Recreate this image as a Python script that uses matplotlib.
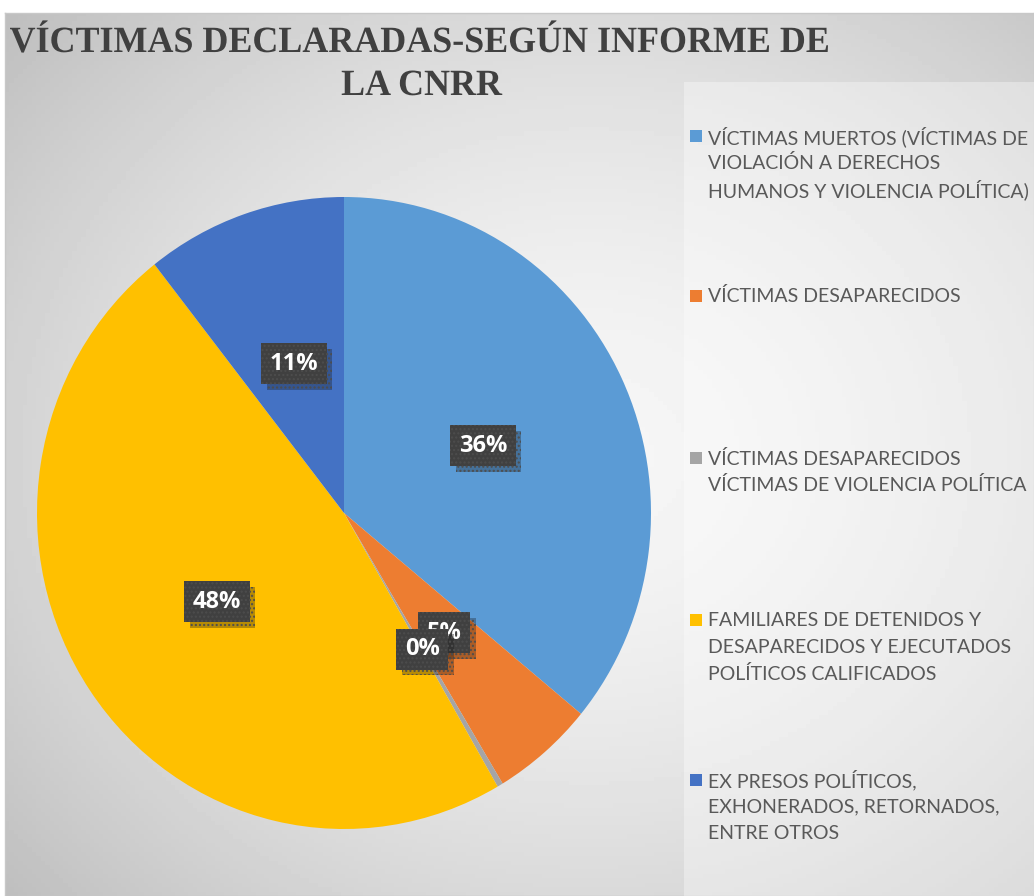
import numpy as np
import matplotlib
matplotlib.use("Agg")
import matplotlib.pyplot as plt
import matplotlib.patheffects as pe
from matplotlib.patches import Rectangle, PathPatch
from matplotlib.textpath import TextPath
from matplotlib.font_manager import FontProperties
from matplotlib.transforms import Affine2D

# data
categories = [
    "VÍCTIMAS MUERTOS (VÍCTIMAS DE\nVIOLACIÓN A DERECHOS\nHUMANOS Y VIOLENCIA POLÍTICA)",
    "VÍCTIMAS DESAPARECIDOS",
    "VÍCTIMAS DESAPARECIDOS\nVÍCTIMAS DE VIOLENCIA POLÍTICA",
    "FAMILIARES DE DETENIDOS Y\nDESAPARECIDOS Y EJECUTADOS\nPOLÍTICOS CALIFICADOS",
    "EX PRESOS POLÍTICOS,\nEXHONERADOS, RETORNADOS,\nENTRE OTROS",
]
shares = [36.0, 5.4, 0.3, 47.8, 10.6]
pct_labels = ["36%", "5%", "0%", "48%", "11%"]
colors = ["#5B9BD5", "#ED7D31", "#A5A5A5", "#FFC000", "#4472C4"]
title_lines = ["VÍCTIMAS DECLARADAS-SEGÚN INFORME DE", "LA CNRR"]

W, H = 1034, 896
fig = plt.figure(figsize=(W / 100, H / 100), dpi=100)
fig.patch.set_facecolor("white")
px = Affine2D().scale(1 / W, 1 / H) + fig.transFigure  # pixel coords, y up

# chart area background with soft radial gradient
bg = fig.add_axes([5 / W, 0, 1 - 5 / W, (H - 13) / H])
yy, xx = np.mgrid[0:200, 0:230]
r = np.hypot((xx - 130) / 230, (yy - 100) / 200)
shade = 0.965 - 0.22 * (r / r.max()) ** 1.6
bg.imshow(shade, cmap="gray", vmin=0, vmax=1, aspect="auto", extent=(0, 1, 0, 1))
bg.set_xticks([])
bg.set_yticks([])
for s in bg.spines.values():
    s.set_color("#c8c8c8")
    s.set_linewidth(1.0)

# lighter legend panel
lg = fig.add_axes([684 / W, 0, 1 - 684 / W, (H - 82) / H])
lg.patch.set_facecolor("white")
lg.patch.set_alpha(0.35)
lg.set_xticks([])
lg.set_yticks([])
for s in lg.spines.values():
    s.set_visible(False)

# pie
cx_px, cy_px, rx, ry = 344, 513, 307, 316
ax = fig.add_axes([(cx_px - rx) / W, (H - cy_px - ry) / H, 2 * rx / W, 2 * ry / H])
wedges, texts = ax.pie(
    shares, colors=colors, startangle=90, counterclock=False,
    labels=pct_labels, labeldistance=0.5,
    wedgeprops=dict(linewidth=0),
)
ax.set_aspect("auto")
ax.set_xlim(-1, 1)
ax.set_ylim(-1, 1)
ax.axis("off")

for t in texts:
    t.set_ha("center")
    t.set_va("center")
    t.set_color("white")
    t.set_fontsize(17)
    t.set_fontweight("bold")
    t.set_fontfamily("Open Sans")
    t.set_bbox(dict(boxstyle="square,pad=0.36", facecolor="#404040",
                    edgecolor="#4d4d4d", linewidth=0, hatch="...."))
    t.get_bbox_patch().set_path_effects(
        [pe.SimplePatchShadow(offset=(4, -4), alpha=0.3), pe.Normal()])
texts[1].set_zorder(3)
texts[2].set_zorder(4)

# title: bold serif, squeezed horizontally like the original condensed face
tprop = FontProperties(family="Liberation Serif", weight="bold")
tsize = 37
tp1 = TextPath((0, 0), title_lines[0], size=tsize, prop=tprop)
sx = 818 / tp1.get_extents().width
for line, cx, base in [(title_lines[0], 419, H - 52), (title_lines[1], 422, H - 95)]:
    tp = TextPath((0, 0), line, size=tsize, prop=tprop)
    bb = tp.get_extents()
    tr = Affine2D().translate(-(bb.x0 + bb.width / 2), 0).scale(sx, 1).translate(cx, base)
    fig.patches.append(PathPatch(tp, transform=tr + px, facecolor="#404040",
                                 edgecolor="none"))

# legend, drawn line by line with a fixed pitch
first_line = [135, 295, 457, 619, 779]
pitch = 26.7
for name, c, y0 in zip(categories, colors, first_line):
    fig.patches.append(Rectangle((690, H - y0 - 7), 12, 12, transform=px,
                                 facecolor=c, edgecolor="none"))
    for j, line in enumerate(name.split("\n")):
        fig.text(708 / W, (H - y0 - j * pitch) / H, line, ha="left",
                 va="center_baseline", fontsize=14, family="Lato",
                 color="#595959")

fig.savefig("out.png", dpi=100)
